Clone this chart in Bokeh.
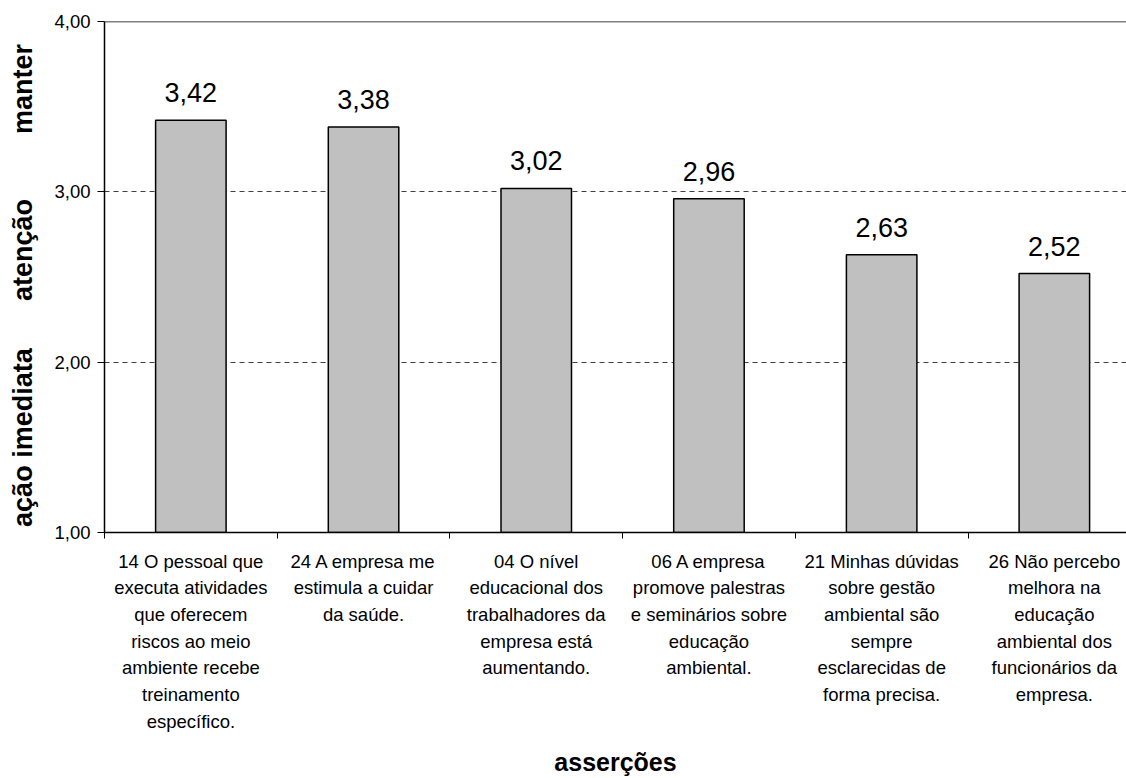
from bokeh.plotting import figure
from bokeh.layouts import row
from bokeh.models import Range1d, FixedTicker, Span, ColumnDataSource
from bokeh.core.properties import value
from bokeh.embed import file_html
from bokeh.resources import INLINE
import math

# ---- data ----
categories = [
    "14 O pessoal que\nexecuta atividades\nque oferecem\nriscos ao meio\nambiente recebe\ntreinamento\nespecífico.",
    "24 A empresa me\nestimula a cuidar\nda saúde.",
    "04 O nível\neducacional dos\ntrabalhadores da\nempresa está\naumentando.",
    "06 A empresa\npromove palestras\ne seminários sobre\neducação\nambiental.",
    "21 Minhas dúvidas\nsobre gestão\nambiental são\nsempre\nesclarecidas de\nforma precisa.",
    "26 Não percebo\nmelhora na\neducação\nambiental dos\nfuncionários da\nempresa.",
]
scores = [3.42, 3.38, 3.02, 2.96, 2.63, 2.52]
y_ticks = [1, 2, 3, 4]
y_tick_labels = ["1,00", "2,00", "3,00", "4,00"]
zone_labels = ["manter", "atenção", "ação imediata"]
zone_centers = [3.604, 2.658, 1.557]
x_title = "asserções"

# ---- layout ----
W, H = 1126, 778
STRIP = 48                    # narrow strip holding the zone labels
LEFT, TOP, BOTTOM = 104, 21, 245
frame_h = H - TOP - BOTTOM
px_y = frame_h / 3.0          # pixels per y unit
px_x = 172.7                  # pixels per category
x_end = (W - LEFT) / px_x
FONT = "Liberation Sans"
y_range = Range1d(1, 4)

# ---- zone-label strip ----
z = figure(width=STRIP, height=H, output_backend="svg", toolbar_location=None,
           x_range=Range1d(0, STRIP), y_range=y_range,
           min_border_left=0, min_border_right=0, min_border_top=TOP,
           min_border_bottom=BOTTOM, outline_line_color=None)
z.axis.visible = False
z.grid.visible = False
zsrc = ColumnDataSource(dict(x=[37] * len(zone_labels), y=zone_centers, t=zone_labels))
z.text(x="x", y="y", text="t", source=zsrc, angle=math.pi / 2,
       text_align="center", text_baseline="bottom", text_font=value(FONT),
       text_font_size="27px", text_font_style="bold", text_color="black")

# ---- main chart ----
p = figure(width=W - STRIP, height=H, output_backend="svg", toolbar_location=None,
           x_range=Range1d(0, x_end), y_range=y_range,
           min_border_left=LEFT - STRIP, min_border_right=0, min_border_top=TOP,
           min_border_bottom=BOTTOM, outline_line_color=None)

xs = [i + 0.5 for i in range(len(scores))]
src = ColumnDataSource(dict(x=xs, top=scores,
                            lab=[f"{v:.2f}".replace(".", ",") for v in scores],
                            ly=[v + 18 / px_y for v in scores]))

p.vbar(x="x", top="top", bottom=1, width=70.5 / px_x, source=src,
       fill_color="#C0C0C0", line_color="black", line_width=1.5)
p.text(x="x", y="ly", text="lab", source=src, text_align="center",
       text_baseline="bottom", text_font=value(FONT),
       text_font_size="27px", text_color="black")

# grid
p.xgrid.visible = False
p.ygrid.ticker = FixedTicker(ticks=[2, 3])
p.ygrid.grid_line_color = "#404040"
p.ygrid.grid_line_dash = "5 4"
p.ygrid.grid_line_width = 1

# top border
p.add_layout(Span(location=4, dimension="width", line_color="black", line_width=1.5))

# y axis
p.yaxis.ticker = FixedTicker(ticks=y_ticks)
p.yaxis.major_label_overrides = {t: l for t, l in zip(y_ticks, y_tick_labels)}
p.yaxis.major_label_text_font = FONT
p.yaxis.major_label_text_font_size = "18.5px"
p.yaxis.major_label_text_color = "black"
p.yaxis.major_label_standoff = 7
p.yaxis.major_tick_out = 7
p.yaxis.major_tick_in = 0
p.yaxis.minor_tick_line_color = None
p.yaxis.axis_line_width = 1.5
p.yaxis.axis_line_color = "black"
p.yaxis.major_tick_line_color = "black"

# x axis: labels at category centres, ticks at boundaries
p.xaxis.ticker = FixedTicker(ticks=xs, minor_ticks=list(range(len(scores))))
p.xaxis.major_label_overrides = {x: c for x, c in zip(xs, categories)}
p.xaxis.major_label_text_font = FONT
p.xaxis.major_label_text_font_size = "18.5px"
p.xaxis.major_label_text_line_height = 1.27
p.xaxis.major_label_text_color = "black"
p.xaxis.major_label_standoff = 12
p.xaxis.major_tick_line_color = None
p.xaxis.minor_tick_out = 6
p.xaxis.minor_tick_in = 0
p.xaxis.minor_tick_line_color = "black"
p.xaxis.axis_line_width = 1.5
p.xaxis.axis_line_color = "black"
p.xaxis.axis_label = x_title
p.xaxis.axis_label_text_font = FONT
p.xaxis.axis_label_text_font_size = "25px"
p.xaxis.axis_label_text_font_style = "bold"
p.xaxis.axis_label_text_color = "black"
p.xaxis.axis_label_standoff = 13

layout = row(z, p, spacing=0)
open("out.html", "w").write(file_html(layout, INLINE))
